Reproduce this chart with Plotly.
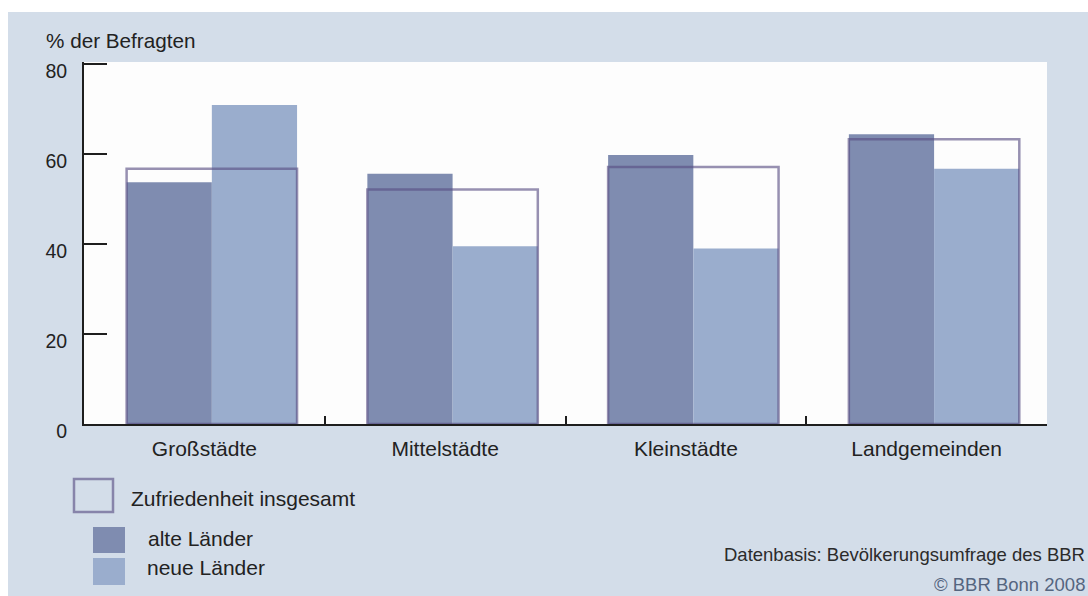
import plotly.graph_objects as go

# ---- data ----
categories = ["Großstädte", "Mittelstädte", "Kleinstädte", "Landgemeinden"]
alte_laender = [53.7, 55.6, 59.8, 64.4]
neue_laender = [70.9, 39.5, 39.0, 56.7]
insgesamt = [56.7, 52.1, 57.1, 63.3]
y_ticks = [0, 20, 40, 60, 80]

series_names = ["Zufriedenheit insgesamt", "alte Länder", "neue Länder"]
y_title = "% der Befragten"
source_text = "Datenbasis: Bevölkerungsumfrage des BBR"
copyright_text = "© BBR Bonn 2008"

# ---- style ----
W, H = 1088, 596
ML, MR, MT, MB = 84, 41, 62, 172
PW, PH = W - ML - MR, H - MT - MB
BG = "#d3dde9"
C_ALTE = "#7f8cb0"
C_NEUE = "#9aadcd"
C_BOX = "rgba(88,78,130,0.62)"
TXT = "#222222"
FONT = "Liberation Sans, Arial, sans-serif"


def px(x):  # screen pixel -> paper
    return (x - ML) / PW


def py(y):
    return (H - MB - y) / PH


fig = go.Figure()
fig.add_trace(go.Bar(x=categories, y=alte_laender, name=series_names[1],
                     offset=-0.323, width=0.354,
                     marker=dict(color=C_ALTE, line=dict(width=0))))
fig.add_trace(go.Bar(x=categories, y=neue_laender, name=series_names[2],
                     offset=0.031, width=0.354,
                     marker=dict(color=C_NEUE, line=dict(width=0))))
fig.add_trace(go.Bar(x=categories, y=insgesamt, name=series_names[0],
                     offset=-0.323, width=0.708,
                     marker=dict(color="rgba(0,0,0,0)",
                                 line=dict(width=2.5, color=C_BOX))))

shapes = [
    # white strips at top / left of the image
    dict(type="rect", xref="paper", yref="paper", x0=px(-10), x1=px(W + 10),
         y0=py(12), y1=py(-10), fillcolor="white", line=dict(width=0), layer="below"),
    dict(type="rect", xref="paper", yref="paper", x0=px(-10), x1=px(8),
         y0=py(H + 10), y1=py(-10), fillcolor="white", line=dict(width=0), layer="below"),
    # legend swatches
    dict(type="rect", xref="paper", yref="paper", x0=px(74), x1=px(113),
         y0=py(512), y1=py(479), fillcolor=BG,
         line=dict(width=2.5, color=C_BOX)),
    dict(type="rect", xref="paper", yref="paper", x0=px(93), x1=px(125),
         y0=py(553), y1=py(527), fillcolor=C_ALTE, line=dict(width=0)),
    dict(type="rect", xref="paper", yref="paper", x0=px(93), x1=px(125),
         y0=py(585), y1=py(558), fillcolor=C_NEUE, line=dict(width=0)),
]

annotations = [
    dict(text=y_title, x=px(44), y=py(40), xanchor="left", yanchor="middle",
         font=dict(size=20.7, color=TXT)),
    dict(text=series_names[0], x=px(129), y=py(498), xanchor="left", yanchor="middle",
         font=dict(size=21, color=TXT)),
    dict(text=series_names[1], x=px(146), y=py(538), xanchor="left", yanchor="middle",
         font=dict(size=21, color=TXT)),
    dict(text=series_names[2], x=px(145), y=py(567), xanchor="left", yanchor="middle",
         font=dict(size=21, color=TXT)),
    dict(text=source_text, x=px(1087), y=py(554), xanchor="right", yanchor="middle",
         font=dict(size=18.5, color="#2b2b2b")),
    dict(text=copyright_text, x=px(1087), y=py(584), xanchor="right", yanchor="middle",
         font=dict(size=18.5, color="#55657f")),
]
for a in annotations:
    a.update(xref="paper", yref="paper", showarrow=False)

fig.update_layout(
    width=W, height=H,
    margin=dict(l=ML, r=MR, t=MT, b=MB, pad=0),
    paper_bgcolor=BG, plot_bgcolor="#fdfdfd",
    barmode="overlay", showlegend=False,
    font=dict(family=FONT, color=TXT),
    shapes=shapes, annotations=annotations,
    xaxis=dict(type="category", range=[-0.5, 3.5], showgrid=False, zeroline=False,
               showline=True, linecolor="#1e1e1e", linewidth=2,
               ticks="inside", tickson="boundaries", ticklen=8, tickwidth=2,
               tickcolor="#1e1e1e", layer="below traces",
               tickfont=dict(size=21, color=TXT), ticklabelstandoff=5),
    yaxis=dict(range=[0, 80.44], tickvals=y_ticks, showgrid=False, zeroline=False,
               showline=True, linecolor="#1e1e1e", linewidth=2,
               ticks="inside", ticklen=23, tickwidth=2, tickcolor="#1e1e1e",
               tickfont=dict(size=19.5, color=TXT),
               ticklabelstandoff=11, ticklabelshift=7),
)

page_fix = ("document.body.style.margin='0px';"
            "document.body.style.overflow='hidden';"
            "document.documentElement.style.overflow='hidden';")
fig.write_html("out.html", post_script=page_fix,
               config={"displayModeBar": False, "staticPlot": True})
